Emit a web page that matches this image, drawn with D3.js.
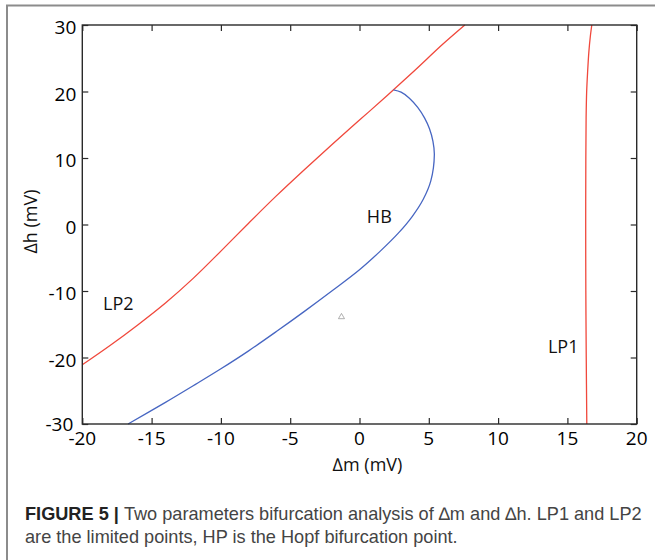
<!DOCTYPE html>
<html>
<head>
<meta charset="utf-8">
<script src="https://cdn.jsdelivr.net/npm/d3@7"></script>
<style>
  body { margin: 0; background: #fff; }
  .plot-text { font-family: "Open Sans", sans-serif; }
  .caption-text { font-family: "Liberation Sans", Arial, sans-serif; }
</style>
</head>
<body>
<div class="svg-container"></div>
<script>
// axis ticks
const xTicks = [-20, -15, -10, -5, 0, 5, 10, 15, 20];
const yTicks = [-30, -20, -10, 0, 10, 20, 30];

// LP2 branch (red)
const lp2M = [-20, -18, -16, -14, -12, -10, -8, -6, -4, -2, 0, 2, 4, 6, 7.6];
const lp2H = [-21.1, -18.2, -15.1, -11.8, -8.1, -4.0, 0.2, 4.3, 8.2, 12.0, 15.7, 19.4, 23.2, 27.1, 30.0];

// Hopf branch (blue)
const hbM = [-16.7, -14, -12, -10, -8, -6, -4, -2, 0, 1.5, 2.8, 3.8, 4.6, 5.15, 5.4, 5.3, 5.05, 4.7, 4.2, 3.6, 3.0, 2.45];
const hbH = [-30, -26.75, -24.25, -21.7, -19.0, -16.1, -13.1, -10.0, -6.8, -4.0, -1.3, 1.2, 3.8, 6.6, 10.5, 12.5, 14.4, 16.0, 17.6, 19.0, 19.9, 20.25];

// LP1 branch (red)
const lp1M = [16.4, 16.36, 16.33, 16.32, 16.33, 16.35, 16.39, 16.46, 16.55, 16.65, 16.76];
const lp1H = [-30, -20, -10, 0, 10, 16, 20, 23, 26, 28.2, 30];

// small marker
const markM = -1.3;
const markH = -13.9;

// curve labels (centre m, baseline h)
const labelNames = ['LP2', 'HB', 'LP1'];
const labelM = [-17.4, 1.43, 14.7];
const labelH = [-12.8, 0.25, -19.34];

function render() {
  const width = 655;
  const height = 560;
  const margin = { top: 25, right: 18.3, bottom: 136, left: 82.3 };
  const tickLen = 6;

  const svg = d3.select('.svg-container')
    .append('svg')
    .attr('width', width)
    .attr('height', height);

  // figure frame (open box)
  svg.append('path')
    .attr('d', `M7,${height} V5.5 H${width}`)
    .attr('fill', 'none')
    .attr('stroke', '#8c8c8c')
    .attr('stroke-width', 2);

  const x = d3.scaleLinear()
    .domain([-20, 20])
    .range([margin.left, width - margin.right]);

  const y = d3.scaleLinear()
    .domain([-30, 30])
    .range([height - margin.bottom, margin.top]);

  const x0 = x.range()[0], x1 = x.range()[1];
  const y0 = y.range()[1], y1 = y.range()[0];

  // ticks, drawn inward on all four sides
  const axisColour = '#2a2a2a';
  svg.append('g')
    .attr('transform', `translate(0,${y1})`)
    .call(d3.axisTop(x).tickValues(xTicks).tickSize(tickLen).tickFormat(''))
    .call(g => g.select('.domain').remove());
  svg.append('g')
    .attr('transform', `translate(0,${y0})`)
    .call(d3.axisBottom(x).tickValues(xTicks).tickSize(tickLen).tickFormat(''))
    .call(g => g.select('.domain').remove());
  svg.append('g')
    .attr('transform', `translate(${x0},0)`)
    .call(d3.axisRight(y).tickValues(yTicks).tickSize(tickLen).tickFormat(''))
    .call(g => g.select('.domain').remove());
  svg.append('g')
    .attr('transform', `translate(${x1},0)`)
    .call(d3.axisLeft(y).tickValues(yTicks).tickSize(tickLen).tickFormat(''))
    .call(g => g.select('.domain').remove());
  svg.selectAll('.tick line')
    .attr('stroke', axisColour)
    .attr('stroke-width', 1.2);

  // tick labels
  svg.append('g')
    .selectAll('text')
    .data(xTicks)
    .enter()
    .append('text')
    .attr('class', 'plot-text')
    .attr('x', d => x(d))
    .attr('y', y1 + 21)
    .attr('text-anchor', 'middle')
    .attr('font-size', 19)
    .attr('fill', '#000')
    .text(d => d);

  svg.append('g')
    .selectAll('text')
    .data(yTicks)
    .enter()
    .append('text')
    .attr('class', 'plot-text')
    .attr('x', d => x0 - (d === -30 ? 9 : 6))
    .attr('y', d => y(d) + (d === -30 ? 7 : 9))
    .attr('text-anchor', 'end')
    .attr('font-size', 19)
    .attr('fill', '#000')
    .text(d => d);

  // axis titles
  svg.append('text')
    .attr('class', 'plot-text')
    .attr('x', (x0 + x1) / 2 + 8)
    .attr('y', 471)
    .attr('text-anchor', 'middle')
    .attr('font-size', 18)
    .attr('fill', '#111')
    .text('\u2206m (mV)');

  svg.append('text')
    .attr('class', 'plot-text')
    .attr('transform', `translate(37,${(y0 + y1) / 2 - 3}) rotate(-90)`)
    .attr('text-anchor', 'middle')
    .attr('font-size', 18)
    .attr('fill', '#111')
    .text('\u2206h (mV)');

  // curves
  const line = d3.line()
    .x(d => x(d[0]))
    .y(d => y(d[1]))
    .curve(d3.curveCatmullRom.alpha(0.5));

  const branches = [
    { m: lp2M, h: lp2H, colour: '#f0483c' },
    { m: hbM, h: hbH, colour: '#4766c2' },
    { m: lp1M, h: lp1H, colour: '#f0483c' }
  ];

  svg.append('g')
    .selectAll('path')
    .data(branches)
    .enter()
    .append('path')
    .attr('d', d => line(d.m.map((v, i) => [v, d.h[i]])))
    .attr('fill', 'none')
    .attr('stroke', d => d.colour)
    .attr('stroke-width', 1.3);

  // plot box
  svg.append('rect')
    .attr('x', x0)
    .attr('y', y0)
    .attr('width', x1 - x0)
    .attr('height', y1 - y0)
    .attr('fill', 'none')
    .attr('stroke', axisColour)
    .attr('stroke-width', 1.4);

  // small triangle marker
  svg.append('path')
    .attr('d', d3.symbol(d3.symbolTriangle, 16)())
    .attr('transform', `translate(${x(markM)},${y(markH)})`)
    .attr('fill', 'none')
    .attr('stroke', '#9a9a9a')
    .attr('stroke-width', 0.8);

  // curve labels
  svg.append('g')
    .selectAll('text')
    .data(labelNames)
    .enter()
    .append('text')
    .attr('class', 'plot-text')
    .attr('x', (d, i) => x(labelM[i]))
    .attr('y', (d, i) => y(labelH[i]))
    .attr('text-anchor', 'middle')
    .attr('font-size', 18)
    .attr('fill', '#111')
    .text(d => d);

  // caption
  const caption = svg.append('g');

  const line1 = caption.append('text')
    .attr('class', 'caption-text')
    .attr('x', 25)
    .attr('y', 520)
    .attr('font-size', 16)
    .attr('fill', '#444');
  line1.append('tspan')
    .attr('font-weight', 'bold')
    .attr('fill', '#222')
    .text('FIGURE 5 | ');
  line1.append('tspan')
    .text('Two parameters bifurcation analysis of \u2206m and \u2206h. LP1 and LP2');

  const line2 = caption.append('text')
    .attr('class', 'caption-text')
    .attr('x', 25)
    .attr('y', 543)
    .attr('font-size', 16)
    .attr('fill', '#444')
    .text('are the limited points, HP is the Hopf bifurcation point.');

  // fit the first caption line to the frame width
  const fitSize = 16 * 617 / line1.node().getComputedTextLength();
  line1.attr('font-size', fitSize);
  line2.attr('font-size', fitSize);
}

render();
</script>
</body>
</html>
